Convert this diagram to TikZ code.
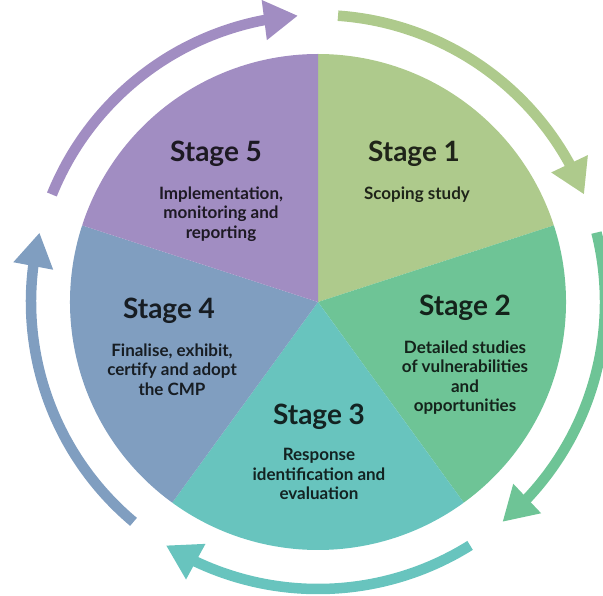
\documentclass[tikz,border=0pt]{standalone}
\usepackage{fontspec}
\setmainfont{Lato}
\usetikzlibrary{arrows.meta,bending,positioning}
\definecolor{stageone}{RGB}{174,202,140}
\definecolor{stagetwo}{RGB}{110,196,150}
\definecolor{stagethree}{RGB}{104,196,190}
\definecolor{stagefour}{RGB}{128,158,192}
\definecolor{stagefive}{RGB}{161,141,194}
\tikzset{
  stagetitle/.style={inner sep=0pt, anchor=base, font=\bfseries\fontsize{28}{30}\selectfont},
  stagebody/.style={inner sep=0pt, align=center, font=\bfseries\fontsize{17}{19.5}\selectfont},
  ringarrow/.style={line width=10.5pt, -{Triangle[length=34pt,width=38pt]}}
}
\begin{document}
\begin{tikzpicture}[x=1pt,y=1pt]
\useasboundingbox (0,0) rectangle (603,-596);
\coordinate (c) at (318,-302);
% slices and the arrows round them
\foreach \col [count=\i] in {stageone,stagetwo,stagethree,stagefour,stagefive}{
  \pgfmathsetmacro\sa{90-72*(\i-1)}
  \pgfmathsetmacro\mid{\sa-36}
  \fill[\col] (c) -- ([shift={(\sa:248)}]c) arc[start angle=\sa, end angle=\sa-72, radius=248] -- cycle;
  \draw[\col, ringarrow] ([shift={(\mid+32:287)}]c) arc[start angle=\mid+32, end angle=\mid-32, radius=287];
}
% labels
\node[stagetitle, text=stageone!18!black] (s1) at (414,-162) {Stage 1};
\node[stagebody, text=stageone!18!black] (b1) [below=19pt of s1, xshift=3pt] {Scoping study};
\node[stagetitle, text=stagetwo!18!black] (s2) at (465,-316) {Stage 2};
\node[stagebody, text=stagetwo!18!black] (b2) [below=19pt of s2] {Detailed studies\\of vulnerabilities\\and\\opportunities};
\node[stagetitle, text=stagethree!18!black] (s3) at (319,-424) {Stage 3};
\node[stagebody, text=stagethree!18!black] (b3) [below=19pt of s3] {Response\\identification and\\evaluation};
\node[stagetitle, text=stagefour!18!black] (s4) at (169,-319) {Stage 4};
\node[stagebody, text=stagefour!18!black] (b4) [below=19pt of s4, xshift=3pt] {Finalise, exhibit,\\certify and adopt\\the CMP};
\node[stagetitle, text=stagefive!18!black] (s5) at (216,-162) {Stage 5};
\node[stagebody, text=stagefive!18!black] (b5) [below=19pt of s5, xshift=5pt] {Implementation,\\monitoring and\\reporting};
\end{tikzpicture}
\end{document}
